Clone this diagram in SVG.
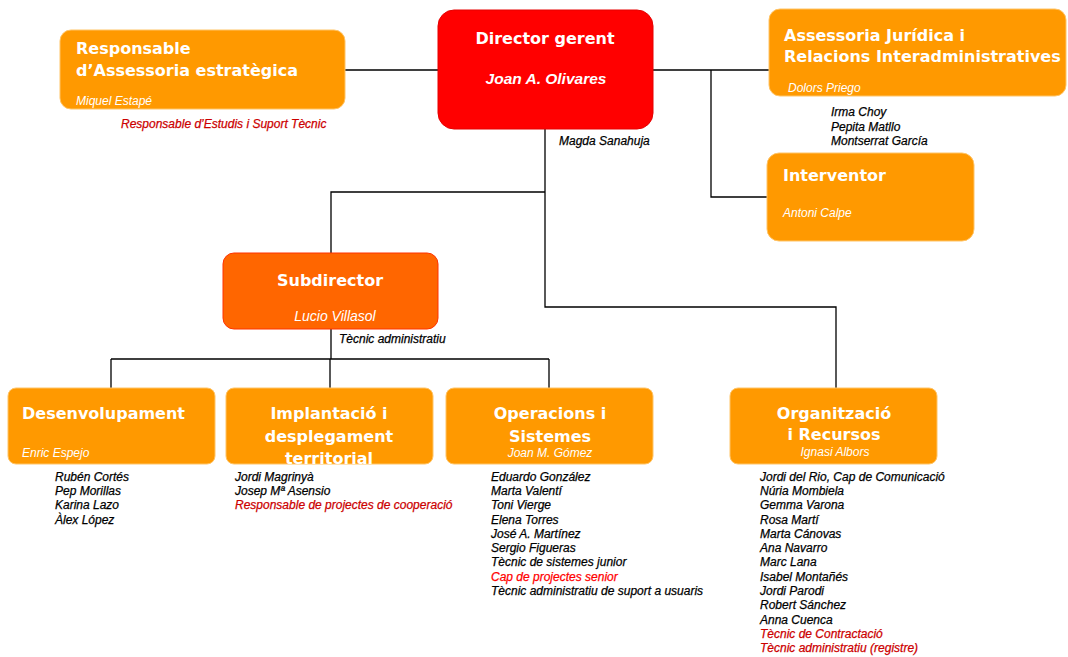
<svg xmlns="http://www.w3.org/2000/svg" width="1068" height="657" viewBox="0 0 1068 657">
<style>
.box{fill:#FF9900;stroke:#FFC466;stroke-width:1}
.t{font-family:"DejaVu Sans",Verdana,sans-serif;font-weight:bold;font-size:16px;fill:#fff}
.n{font-family:"Liberation Sans",Arial,sans-serif;font-style:italic;font-size:12px;fill:#fff}
.nb{font-family:"Liberation Sans",Arial,sans-serif;font-style:italic;font-weight:bold;font-size:15.5px;fill:#fff}
.l{font-family:"Liberation Sans",Arial,sans-serif;font-style:italic;font-size:12px;fill:#000;stroke:#000;stroke-width:0.25}
.r{fill:#CC0000;stroke:#CC0000}
.rr{fill:#FF0000;stroke:#FF0000}
.c{fill:none;stroke:#000;stroke-width:1.3}
</style>
<rect width="1068" height="657" fill="#fff"/>
<g id="connectors">
<path class="c" d="M345 70H438M653 70H769M711 70V197H767M545 129V307H836V388M545 192H331V253M331 329V359M111 359H549M111 359V388M330 359V388M549 359V388"/>
</g>
<g id="responsable">
<rect class="box" x="60" y="30" width="285" height="79" rx="11"/>
<text class="t" x="76" y="54">Responsable</text>
<text class="t" x="76" y="76">d’Assessoria estratègica</text>
<text class="n" x="76" y="105">Miquel Estapé</text>
<text class="l r" x="121" y="128">Responsable d’Estudis i Suport Tècnic</text>
</g>
<g id="director">
<rect x="438" y="10" width="215" height="119" rx="16" fill="#FF0000" stroke="#E60000"/>
<text class="t" x="545" y="44" text-anchor="middle">Director gerent</text>
<text class="nb" x="546" y="84" text-anchor="middle">Joan A. Olivares</text>
<text class="l" x="559" y="145">Magda Sanahuja</text>
</g>
<g id="assessoria">
<rect class="box" x="769" y="9" width="297" height="87" rx="11"/>
<text class="t" x="784" y="41">Assessoria Jurídica i</text>
<text class="t" x="784" y="62">Relacions Interadministratives</text>
<text class="n" x="788" y="92">Dolors Priego</text>
<text class="l" x="831" y="116">Irma Choy</text>
<text class="l" x="831" y="131">Pepita Matllo</text>
<text class="l" x="831" y="145">Montserrat García</text>
</g>
<g id="interventor">
<rect class="box" x="767" y="153" width="207" height="88" rx="12"/>
<text class="t" x="783" y="181">Interventor</text>
<text class="n" x="783" y="217">Antoni Calpe</text>
</g>
<g id="subdirector">
<rect x="223" y="253" width="215" height="76" rx="11" fill="#FF6600" stroke="#FF3300"/>
<text class="t" x="330" y="286" text-anchor="middle">Subdirector</text>
<text class="n" x="335" y="321" text-anchor="middle" style="font-size:14px">Lucio Villasol</text>
<text class="l" x="339" y="343">Tècnic administratiu</text>
</g>
<g id="desenvolupament">
<rect class="box" x="8" y="388" width="207" height="76" rx="8"/>
<text class="t" x="22" y="419">Desenvolupament</text>
<text class="n" x="22" y="457">Enric Espejo</text>
<text class="l" x="55" y="481">Rubén Cortés</text>
<text class="l" x="55" y="495">Pep Morillas</text>
<text class="l" x="55" y="509">Karina Lazo</text>
<text class="l" x="55" y="524">Àlex López</text>
</g>
<g id="implantacio">
<rect class="box" x="226" y="388" width="207" height="76" rx="8"/>
<text class="t" x="329" y="419" text-anchor="middle">Implantació i</text>
<text class="t" x="329" y="442" text-anchor="middle">desplegament</text>
<text class="t" x="329" y="464" text-anchor="middle">territorial</text>
<text class="l" x="235" y="481">Jordi Magrinyà</text>
<text class="l" x="235" y="495">Josep Mª Asensio</text>
<text class="l r" x="235" y="509">Responsable de projectes de cooperació</text>
</g>
<g id="operacions">
<rect class="box" x="446" y="388" width="207" height="76" rx="8"/>
<text class="t" x="550" y="419" text-anchor="middle">Operacions i</text>
<text class="t" x="550" y="442" text-anchor="middle">Sistemes</text>
<text class="n" x="550" y="457" text-anchor="middle">Joan M. Gómez</text>
<text class="l" x="491" y="481">Eduardo González</text>
<text class="l" x="491" y="495">Marta Valentí</text>
<text class="l" x="491" y="509">Toni Vierge</text>
<text class="l" x="491" y="524">Elena Torres</text>
<text class="l" x="491" y="538">José A. Martínez</text>
<text class="l" x="491" y="552">Sergio Figueras</text>
<text class="l" x="491" y="566">Tècnic de sistemes junior</text>
<text class="l rr" x="491" y="581">Cap de projectes senior</text>
<text class="l" x="491" y="595">Tècnic administratiu de suport a usuaris</text>
</g>
<g id="organitzacio">
<rect class="box" x="730" y="388" width="207" height="76" rx="8"/>
<text class="t" x="834" y="419" text-anchor="middle">Organització</text>
<text class="t" x="834" y="440" text-anchor="middle">i Recursos</text>
<text class="n" x="835" y="456" text-anchor="middle">Ignasi Albors</text>
<text class="l" x="760" y="481">Jordi del Rio, Cap de Comunicació</text>
<text class="l" x="760" y="495">Núria Mombiela</text>
<text class="l" x="760" y="509">Gemma Varona</text>
<text class="l" x="760" y="524">Rosa Martí</text>
<text class="l" x="760" y="538">Marta Cánovas</text>
<text class="l" x="760" y="552">Ana Navarro</text>
<text class="l" x="760" y="566">Marc Lana</text>
<text class="l" x="760" y="581">Isabel Montañés</text>
<text class="l" x="760" y="595">Jordi Parodi</text>
<text class="l" x="760" y="609">Robert Sánchez</text>
<text class="l" x="760" y="624">Anna Cuenca</text>
<text class="l r" x="760" y="638">Tècnic de Contractació</text>
<text class="l r" x="760" y="652">Tècnic administratiu (registre)</text>
</g>
</svg>
